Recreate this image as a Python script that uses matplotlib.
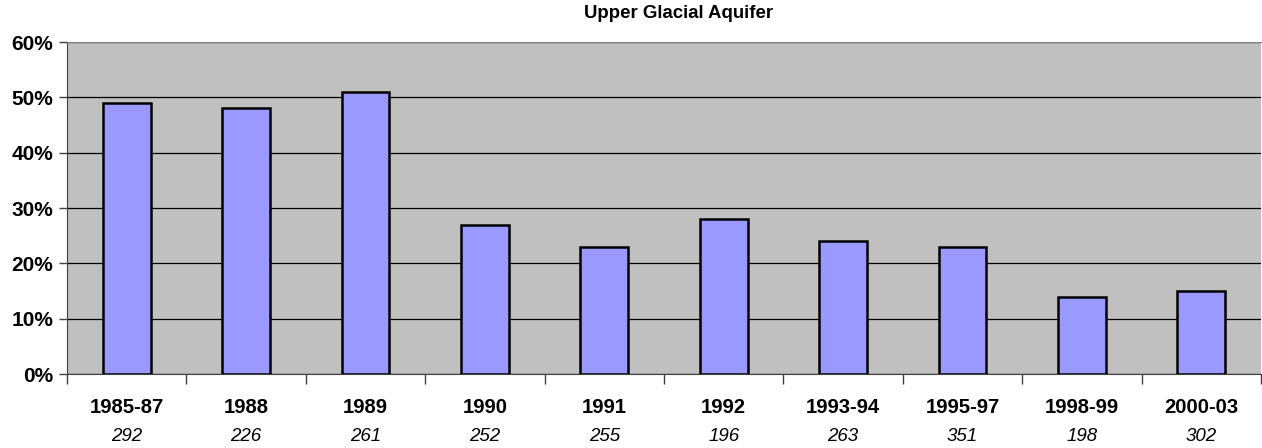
import numpy as np
import matplotlib
matplotlib.use("Agg")
import matplotlib.pyplot as plt
from matplotlib.ticker import FixedLocator, PercentFormatter
import matplotlib.transforms as mtransforms

plt.rcParams['font.family'] = ['Liberation Sans', 'DejaVu Sans']

# data
periods = ["1985-87", "1988", "1989", "1990", "1991", "1992",
           "1993-94", "1995-97", "1998-99", "2000-03"]
percent = [49, 48, 51, 27, 23, 28, 24, 23, 14, 15]
counts = ["292", "226", "261", "252", "255", "196", "263", "351", "198", "302"]

fig = plt.figure(figsize=(12.62, 4.48), dpi=100)
ax = fig.add_axes([67 / 1262, 74 / 448, 1194 / 1262, 332 / 448])
ax.set_facecolor("#C0C0C0")

x = np.arange(len(periods))
ax.bar(x, percent, width=0.4, color="#9999FF", edgecolor="black",
       linewidth=1.8, zorder=3)

ax.set_xlim(-0.5, len(periods) - 0.5)
ax.set_ylim(0, 60)
ax.set_yticks(range(0, 61, 10))
ax.yaxis.set_major_formatter(PercentFormatter(decimals=0))
ax.grid(axis="y", color="black", linewidth=0.9, zorder=1)

# tick marks at category boundaries, labels drawn as text below
ax.set_xticks([])
ax.xaxis.set_minor_locator(FixedLocator(np.arange(-0.5, len(periods), 1.0)))
ax.tick_params(axis="x", which="minor", length=7, width=1, color="#404040")
ax.tick_params(axis="y", length=6, width=1, color="#404040",
               labelsize=15, pad=4)
for lbl in ax.get_yticklabels():
    lbl.set_fontweight("bold")

trans = mtransforms.blended_transform_factory(ax.transData, fig.transFigure)
for xi, p, c in zip(x, periods, counts):
    ax.text(xi, 1 - 407 / 448, p, transform=trans, ha="center", va="center",
            fontsize=14.6, fontweight="bold")
    ax.text(xi, 1 - 436 / 448, c, transform=trans, ha="center", va="center",
            fontsize=13.5, fontstyle="italic")

ax.spines["top"].set_color("#808080")
ax.spines["right"].set_visible(False)
ax.spines["left"].set_color("#404040")
ax.spines["bottom"].set_color("#404040")

fig.text(679 / 1262, 1 - 14 / 448, "Upper Glacial Aquifer",
         ha="center", va="center", fontsize=13.4, fontweight="bold")

fig.savefig("out.png", dpi=100)
